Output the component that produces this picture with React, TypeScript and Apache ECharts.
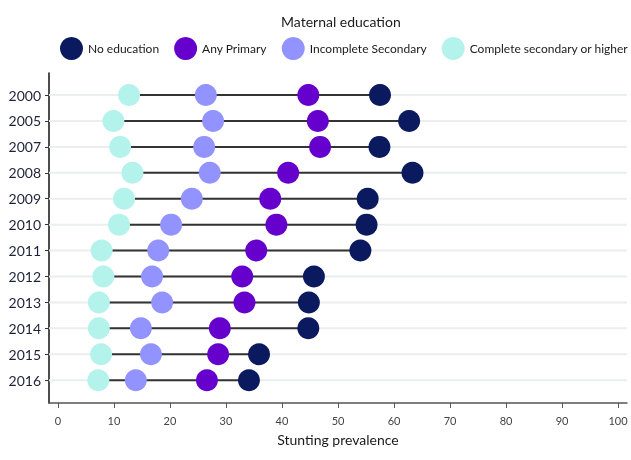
import React, { useEffect, useRef } from "react";
import * as echarts from "echarts";

const years = ["2000", "2005", "2007", "2008", "2009", "2010", "2011", "2012", "2013", "2014", "2015", "2016"];
const noEducation = [57.5, 62.7, 57.4, 63.3, 55.3, 55.1, 54.0, 45.7, 44.8, 44.7, 35.9, 34.1];
const anyPrimary = [44.7, 46.4, 46.8, 41.1, 37.9, 39.0, 35.4, 32.9, 33.3, 28.9, 28.6, 26.6];
const incompleteSecondary = [26.4, 27.7, 26.1, 27.1, 23.9, 20.2, 17.9, 16.8, 18.6, 14.8, 16.6, 13.9];
const completeSecondary = [12.7, 9.9, 11.1, 13.3, 11.8, 10.9, 7.8, 8.1, 7.3, 7.3, 7.7, 7.2];
const xTicks = [0, 10, 20, 30, 40, 50, 60, 70, 80, 90, 100];

const seriesDefs = [
  { name: "No education", values: noEducation, color: "#0b195e" },
  { name: "Any Primary", values: anyPrimary, color: "#6600cc" },
  { name: "Incomplete Secondary", values: incompleteSecondary, color: "#9393ff" },
  { name: "Complete secondary or higher", values: completeSecondary, color: "#b3f3eb" },
];

const FONT = "Lato, 'Noto Sans', sans-serif";

export default function App() {
  const ref = useRef<HTMLDivElement>(null);
  useEffect(() => {
    if (!ref.current) return;
    const chart = echarts.init(ref.current, null, { renderer: "svg" });
    const yIdx = years.map((_, i) => i);
    const ranges = years.map((_, i) => {
      const vals = seriesDefs.map((s) => s.values[i]);
      return [Math.min(...vals), Math.max(...vals), i];
    });
    chart.setOption({
      animation: false,
      textStyle: { fontFamily: FONT },
      title: {
        text: "Maternal education",
        left: 276,
        top: 9,
        textStyle: { fontSize: 14, fontWeight: "normal", color: "#1a1a1a", fontFamily: FONT },
      },
      legend: {
        top: 37,
        left: 60,
        width: 620,
        padding: 0,
        icon: "circle",
        itemWidth: 23,
        itemHeight: 23,
        itemGap: 15,
        textStyle: { fontSize: 12, color: "#1a1a1a", fontFamily: FONT },
        data: seriesDefs.map((s) => s.name),
      },
      grid: { left: 49, right: 4, top: 73, bottom: 57, containLabel: false },
      xAxis: {
        type: "value",
        min: -1.6,
        max: 101.6,
        name: "Stunting prevalence",
        nameLocation: "middle",
        nameGap: 29,
        nameTextStyle: { fontSize: 14, color: "#1a1a1a", fontFamily: FONT },
        axisLine: { onZero: false, lineStyle: { color: "#555", width: 1.5 } },
        axisTick: { show: true, length: 5, customValues: xTicks, lineStyle: { color: "#555" } },
        axisLabel: { customValues: xTicks, fontSize: 11, color: "#444", margin: 12, fontFamily: FONT },
        splitLine: { show: false },
      },
      yAxis: {
        type: "value",
        inverse: true,
        min: -0.85,
        max: 11.88,
        axisLine: { show: true, onZero: false, lineStyle: { color: "#111", width: 1.5 } },
        axisTick: { show: true, length: 4, customValues: yIdx, lineStyle: { color: "#333" } },
        axisLabel: {
          customValues: yIdx,
          formatter: (v: number) => years[Math.round(v)] ?? "",
          fontSize: 14,
          color: "#1e2238",
          margin: 8,
          fontFamily: FONT,
        },
        splitLine: { show: false },
      },
      series: [
        {
          type: "custom",
          name: "grid",
          z: 1,
          silent: true,
          data: yIdx.map((i) => [0, i]),
          encode: { x: 0, y: 1 },
          renderItem: (params: any, api: any) => {
            const cs = params.coordSys;
            const y = api.coord([0, api.value(1)])[1];
            return {
              type: "line",
              shape: { x1: cs.x, y1: y, x2: cs.x + cs.width, y2: y },
              style: { stroke: "#eaeeee", lineWidth: 2 },
            };
          },
        },
        {
          type: "custom",
          name: "range",
          z: 2,
          silent: true,
          data: ranges,
          encode: { x: [0, 1], y: 2 },
          renderItem: (params: any, api: any) => {
            const p1 = api.coord([api.value(0), api.value(2)]);
            const p2 = api.coord([api.value(1), api.value(2)]);
            return {
              type: "line",
              shape: { x1: p1[0], y1: p1[1], x2: p2[0], y2: p2[1] },
              style: { stroke: "#333", lineWidth: 2 },
            };
          },
        },
        ...seriesDefs.map((s) => ({
          type: "scatter",
          name: s.name,
          z: 3,
          symbol: "circle",
          symbolSize: 22,
          itemStyle: { color: s.color, opacity: 1 },
          data: s.values.map((v, i) => [v, i]),
        })),
      ],
    });
    return () => chart.dispose();
  }, []);
  return <div ref={ref} style={{ position: "fixed", left: 0, top: 0, width: 631, height: 460 }} />;
}
